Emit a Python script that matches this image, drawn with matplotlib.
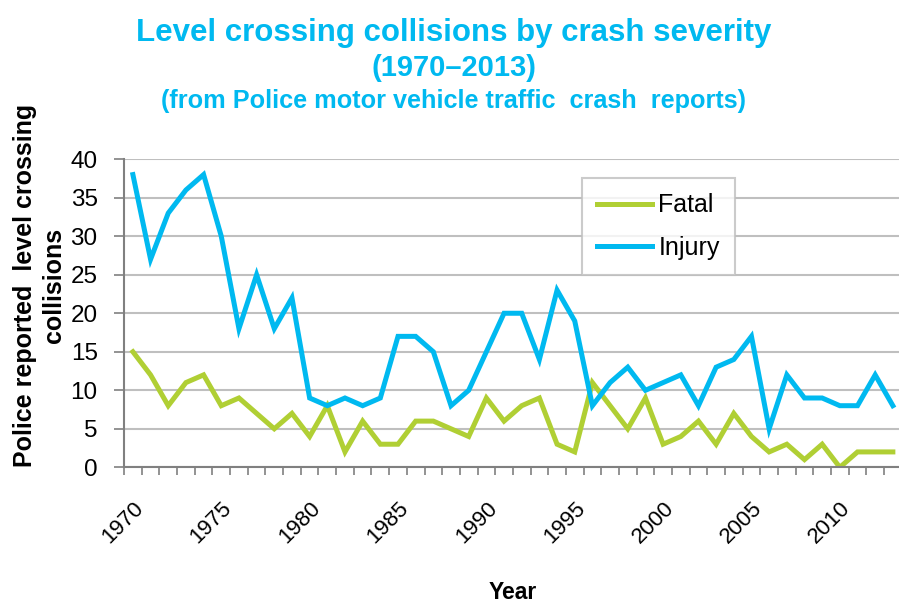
import numpy as np
import matplotlib.pyplot as plt

# Data
years = list(range(1970, 2014))
fatal = [15, 12, 8, 11, 12, 8, 9, 7, 5, 7,
         4, 8, 2, 6, 3, 3, 6, 6, 5, 4,
         9, 6, 8, 9, 3, 2, 11, 8, 5, 9,
         3, 4, 6, 3, 7, 4, 2, 3, 1, 3,
         0, 2, 2, 2]
injury = [38, 27, 33, 36, 38, 30, 18, 25, 18, 22,
          9, 8, 9, 8, 9, 17, 17, 15, 8, 10,
          15, 20, 20, 14, 23, 19, 8, 11, 13, 10,
          11, 12, 8, 13, 14, 17, 5, 12, 9, 9,
          8, 8, 12, 8]
label_years = [1970, 1975, 1980, 1985, 1990, 1995, 2000, 2005, 2010]

GREEN = '#B0CF34'
BLUE = '#00B9F0'
GRID = '#BFBFBF'

plt.rcParams['font.family'] = ['Liberation Sans', 'DejaVu Sans']

fig = plt.figure(figsize=(8.99, 6.03), dpi=100)
ax = fig.add_axes([0.138, 0.225, 0.865, 0.511])

ax.plot(years, fatal, color=GREEN, lw=3.6, label='Fatal', solid_joinstyle='miter')
ax.plot(years, injury, color=BLUE, lw=3.6, label='Injury', solid_joinstyle='miter')

ax.set_xlim(1969.5, 2013.5)
ax.set_ylim(0, 40)
ax.set_yticks(range(0, 41, 5))
ax.yaxis.grid(True, color=GRID, lw=1.5)
ax.set_axisbelow(True)

ax.set_xticks(label_years)
ax.set_xticks(np.arange(1969.5, 2014, 1), minor=True)
ax.tick_params(axis='x', which='major', length=0, pad=22, labelsize=16)
ax.tick_params(axis='x', which='minor', length=6, color='#808080', width=1.2)
ax.tick_params(axis='y', length=7, color='#808080', width=1.2, labelsize=17.5, pad=12)
for lab in ax.get_xticklabels():
    lab.set_rotation(45)
    lab.set_ha('right')
    lab.set_rotation_mode('anchor')

for s in ['top', 'right']:
    ax.spines[s].set_visible(False)
ax.spines['left'].set_color('#808080')
ax.spines['left'].set_linewidth(1.5)
ax.spines['bottom'].set_color('#808080')
ax.spines['bottom'].set_linewidth(1.5)

fig.text(0.044, 0.527, 'Police reported  level crossing\ncollisions', rotation=90,
         ha='center', va='center', multialignment='center', fontsize=18,
         fontweight='bold', linespacing=1.3)
fig.text(0.57, 0.018, 'Year', ha='center', va='center', fontsize=16.5,
         fontweight='bold')

leg = ax.legend(loc='upper left', bbox_to_anchor=(0.589, 0.938), fontsize=18,
                frameon=True, fancybox=False, handlelength=2.2,
                borderpad=0.6, labelspacing=0.75, handletextpad=0.25,
                borderaxespad=0)
leg.get_frame().set_edgecolor('#BFBFBF')
leg.get_frame().set_linewidth(1.5)

fig.text(0.505, 0.945, 'Level crossing collisions by crash severity', ha='center',
         va='center', fontsize=22.5, fontweight='bold', color=BLUE)
fig.text(0.505, 0.887, '(1970\u20132013)', ha='center', va='center', fontsize=21,
         fontweight='bold', color=BLUE)
fig.text(0.505, 0.832, '(from Police motor vehicle traffic  crash  reports)', ha='center',
         va='center', fontsize=18.2, fontweight='bold', color=BLUE)

fig.savefig('out.png', dpi=100)
